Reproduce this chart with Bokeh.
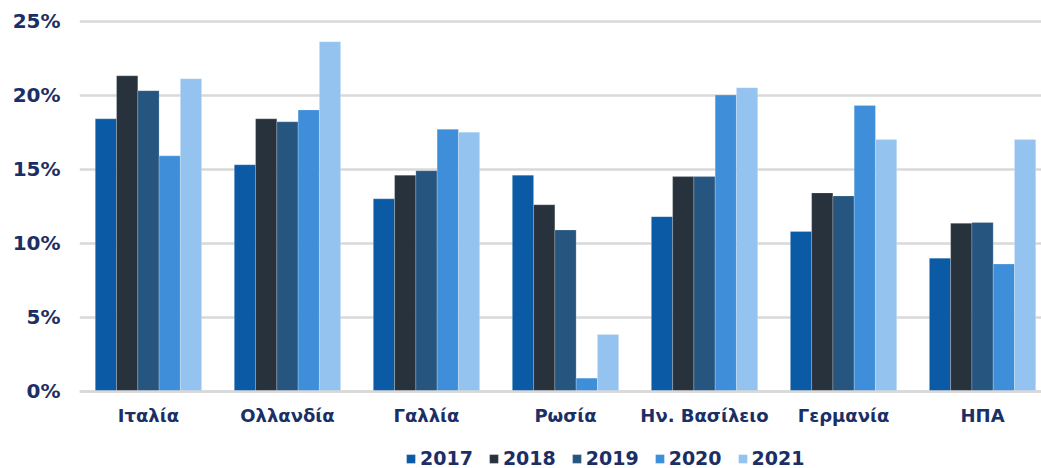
from bokeh.plotting import figure
from bokeh.models import ColumnDataSource, FixedTicker, PrintfTickFormatter, Range1d, Legend, LegendItem
from bokeh.embed import file_html
from bokeh.resources import INLINE

countries = ["Ιταλία", "Ολλανδία", "Γαλλία", "Ρωσία", "Ην. Βασίλειο", "Γερμανία", "ΗΠΑ"]
years = ["2017", "2018", "2019", "2020", "2021"]
v2017 = [18.4, 15.3, 13.0, 14.6, 11.8, 10.8, 9.0]
v2018 = [21.3, 18.4, 14.6, 12.6, 14.5, 13.4, 11.35]
v2019 = [20.3, 18.2, 14.9, 10.9, 14.5, 13.2, 11.4]
v2020 = [15.9, 19.0, 17.7, 0.9, 20.0, 19.3, 8.6]
v2021 = [21.1, 23.6, 17.5, 3.85, 20.5, 17.0, 17.0]
series = [v2017, v2018, v2019, v2020, v2021]
colors = ["#0A5AA5", "#28323D", "#265680", "#3E8ED9", "#93C3EE"]
yticks = [0, 5, 10, 15, 20, 25]

TXT = "#1B2F66"
FONT = "DejaVu Sans"

p = figure(width=1041, height=468, output_backend="svg", toolbar_location=None,
           x_range=Range1d(-0.496, 6.424), y_range=Range1d(-5.196, 25.44),
           min_border_left=79, min_border_right=0, min_border_top=14, min_border_bottom=0)
p.outline_line_color = None
p.background_fill_color = "white"

bw = 0.153
xs = list(range(len(countries)))
renderers = []
for i, (vals, col) in enumerate(zip(series, colors)):
    off = (i - 2) * bw
    src = ColumnDataSource(dict(x=[x + off for x in xs], top=vals))
    r = p.vbar(x="x", top="top", width=bw, bottom=0, source=src, fill_color=col,
               line_color="white", line_alpha=0.35, line_width=0.6)
    renderers.append(r)

p.xgrid.grid_line_color = None
p.ygrid.grid_line_color = "#D9D9D9"
p.ygrid.grid_line_width = 2.5
p.ygrid.ticker = FixedTicker(ticks=yticks)

p.yaxis.ticker = FixedTicker(ticks=yticks)
p.yaxis.formatter = PrintfTickFormatter(format="%d%%")
p.yaxis.axis_line_color = None
p.yaxis.major_tick_line_color = None
p.yaxis.minor_tick_line_color = None
p.yaxis.major_label_standoff = 13
p.yaxis.major_label_text_font = FONT
p.yaxis.major_label_text_font_style = "bold"
p.yaxis.major_label_text_font_size = "20px"
p.yaxis.major_label_text_color = TXT

p.xaxis.fixed_location = 0
p.xaxis.ticker = FixedTicker(ticks=xs)
p.xaxis.major_label_overrides = {i: c for i, c in enumerate(countries)}
p.xaxis.axis_line_color = "#D9D9D9"
p.xaxis.axis_line_width = 2.5
p.xaxis.major_tick_line_color = None
p.xaxis.minor_tick_line_color = None
p.xaxis.major_label_standoff = 8
p.xaxis.major_label_text_font = FONT
p.xaxis.major_label_text_font_style = "bold"
p.xaxis.major_label_text_font_size = "18px"
p.xaxis.major_label_text_color = TXT

legend = Legend(items=[LegendItem(label=y, renderers=[r]) for y, r in zip(years, renderers)],
                orientation="horizontal", location=(326, -1))
legend.glyph_width = 11
legend.glyph_height = 11
legend.label_standoff = 4
legend.spacing = 15
legend.padding = 0
legend.margin = 0
legend.border_line_color = None
legend.background_fill_alpha = 0
legend.label_text_font = FONT
legend.label_text_font_style = "bold"
legend.label_text_font_size = "19px"
legend.label_text_color = TXT
p.add_layout(legend, "center")

open("out.html", "w").write(file_html(p, INLINE))
